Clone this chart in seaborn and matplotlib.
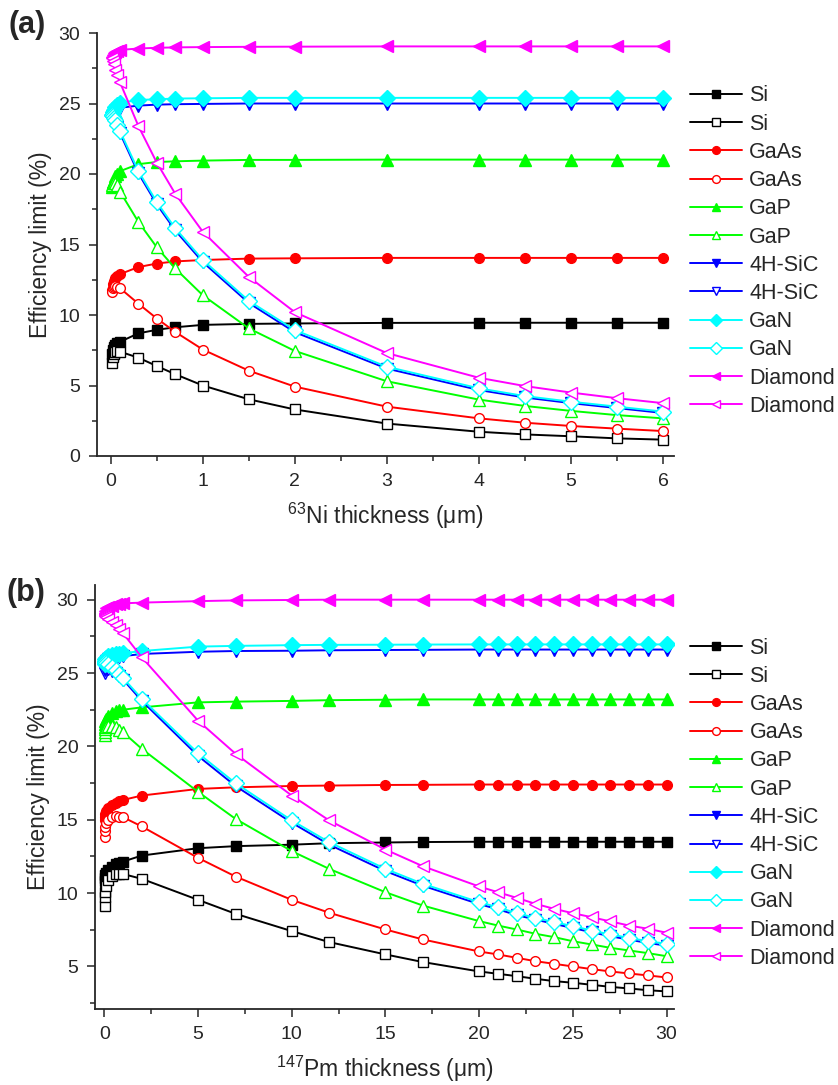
import numpy as np
import pandas as pd
import seaborn as sns
import matplotlib.pyplot as plt
from matplotlib.ticker import MultipleLocator

# --- data ---
names = ["Si", "Si", "GaAs", "GaAs", "GaP", "GaP", "4H-SiC", "4H-SiC",
         "GaN", "GaN", "Diamond", "Diamond"]
colors = ["black", "black", "#ff0000", "#ff0000", "#00ff00", "#00ff00",
          "#0000ff", "#0000ff", "#00ffff", "#00ffff", "#ff00ff", "#ff00ff"]
markers = ["s", "s", "o", "o", "^", "^", "v", "v", "D", "D", "<", "<"]
filled = [True, False] * 6

# (a) 63Ni
x_a = [0.01, 0.02, 0.03, 0.05, 0.07, 0.1, 0.3, 0.5, 0.7, 1, 1.5, 2, 3, 4, 4.5, 5, 5.5, 6]
si_f_a = [7.2, 7.5, 7.7, 7.85, 8.0, 8.1, 8.7, 8.95, 9.13, 9.3, 9.37, 9.4, 9.44, 9.45, 9.45, 9.45, 9.45, 9.45]
si_o_a = [6.6, 7.0, 7.25, 7.4, 7.45, 7.4, 6.97, 6.38, 5.8, 5.0, 4.02, 3.3, 2.3, 1.72, 1.53, 1.4, 1.25, 1.16]
gaas_f_a = [11.8, 12.2, 12.4, 12.6, 12.75, 12.9, 13.4, 13.65, 13.8, 13.9, 14.0, 14.02, 14.05, 14.05, 14.05, 14.05, 14.05, 14.05]
gaas_o_a = [11.6, 11.9, 12.0, 12.05, 12.0, 11.9, 10.8, 9.75, 8.8, 7.55, 6.05, 4.92, 3.5, 2.67, 2.36, 2.13, 1.94, 1.77]
gap_f_a = [19.1, 19.4, 19.6, 19.85, 20.0, 20.2, 20.7, 20.85, 20.9, 20.95, 21.0, 21.0, 21.02, 21.02, 21.02, 21.02, 21.02, 21.02]
gap_o_a = [19.2, 19.35, 19.4, 19.35, 19.2, 18.75, 16.6, 14.8, 13.3, 11.4, 9.05, 7.45, 5.3, 4.0, 3.55, 3.2, 2.9, 2.67]
sic_f_a = [24.0, 24.2, 24.35, 24.5, 24.6, 24.7, 24.85, 24.92, 24.95, 24.97, 25.0, 25.0, 25.0, 25.0, 25.0, 25.0, 25.0, 25.0]
sic_o_a = [24.0, 23.9, 23.8, 23.6, 23.3, 22.9, 20.05, 17.85, 16.0, 13.75, 10.85, 8.78, 6.2, 4.68, 4.15, 3.75, 3.4, 3.05]
gan_f_a = [24.2, 24.4, 24.55, 24.75, 24.9, 25.05, 25.25, 25.3, 25.35, 25.37, 25.4, 25.4, 25.4, 25.4, 25.4, 25.4, 25.4, 25.4]
gan_o_a = [24.2, 24.1, 24.0, 23.8, 23.5, 23.05, 20.2, 18.0, 16.15, 13.9, 11.0, 8.93, 6.33, 4.8, 4.25, 3.85, 3.5, 3.15]
dia_f_a = [28.3, 28.45, 28.55, 28.65, 28.72, 28.8, 28.9, 28.95, 28.98, 29.0, 29.02, 29.03, 29.05, 29.05, 29.05, 29.05, 29.05, 29.05]
dia_o_a = [28.2, 28.0, 27.8, 27.4, 27.0, 26.5, 23.4, 20.8, 18.6, 15.9, 12.7, 10.2, 7.3, 5.55, 4.96, 4.5, 4.1, 3.75]

# (b) 147Pm
x_b = [0.01, 0.02, 0.05, 0.1, 0.2, 0.4, 0.6, 0.8, 1, 2, 5, 7, 10, 12, 15, 17,
       20, 21, 22, 23, 24, 25, 26, 27, 28, 29, 30]
si_f_b = [10.8, 11.0, 11.2, 11.4, 11.6, 11.8, 11.95, 12.05, 12.15, 12.56, 13.06, 13.2, 13.3, 13.4, 13.45, 13.48,
          13.5, 13.5, 13.5, 13.5, 13.5, 13.5, 13.5, 13.5, 13.5, 13.5, 13.5]
si_o_b = [9.1, 9.7, 10.1, 10.5, 10.9, 11.15, 11.3, 11.3, 11.3, 10.97, 9.54, 8.59, 7.41, 6.66, 5.82, 5.3,
          4.66, 4.5, 4.34, 4.16, 4.0, 3.89, 3.75, 3.61, 3.5, 3.38, 3.3]
gaas_f_b = [15.0, 15.2, 15.4, 15.6, 15.8, 16.0, 16.15, 16.25, 16.35, 16.65, 17.1, 17.21, 17.3, 17.33, 17.37, 17.38,
            17.4, 17.4, 17.4, 17.4, 17.4, 17.4, 17.4, 17.4, 17.4, 17.4, 17.4]
gaas_o_b = [13.8, 14.2, 14.5, 14.8, 15.0, 15.2, 15.25, 15.22, 15.17, 14.54, 12.4, 11.13, 9.54, 8.66, 7.52, 6.84,
            6.02, 5.82, 5.59, 5.36, 5.18, 5.0, 4.82, 4.66, 4.52, 4.39, 4.25]
gap_f_b = [21.3, 21.5, 21.7, 21.9, 22.1, 22.3, 22.4, 22.45, 22.5, 22.66, 23.0, 23.05, 23.1, 23.15, 23.18, 23.2,
           23.2, 23.2, 23.2, 23.2, 23.2, 23.2, 23.2, 23.2, 23.2, 23.2, 23.2]
gap_o_b = [20.8, 21.0, 21.2, 21.3, 21.4, 21.4, 21.3, 21.15, 20.96, 19.83, 16.9, 15.06, 12.86, 11.65, 10.06, 9.15,
           8.09, 7.79, 7.52, 7.23, 7.0, 6.72, 6.5, 6.27, 6.09, 5.91, 5.7]
sic_f_b = [25.3, 25.5, 25.7, 25.85, 25.95, 26.05, 26.1, 26.12, 26.15, 26.3, 26.45, 26.5, 26.52, 26.55, 26.57, 26.58,
           26.6, 26.6, 26.6, 26.6, 26.6, 26.6, 26.6, 26.6, 26.6, 26.6, 26.6]
sic_o_b = [25.0, 25.2, 25.3, 25.35, 25.3, 25.15, 25.0, 24.8, 24.55, 23.1, 19.35, 17.3, 14.8, 13.3, 11.5, 10.5,
           9.25, 8.9, 8.5, 8.2, 7.9, 7.62, 7.33, 7.06, 6.83, 6.6, 6.42]
gan_f_b = [25.6, 25.8, 25.95, 26.05, 26.15, 26.25, 26.3, 26.33, 26.35, 26.5, 26.8, 26.85, 26.9, 26.92, 26.93, 26.94,
           26.95, 26.95, 26.95, 26.95, 26.95, 26.95, 26.95, 26.95, 26.95, 26.95, 26.95]
gan_o_b = [25.7, 25.75, 25.75, 25.7, 25.6, 25.4, 25.2, 24.95, 24.66, 23.24, 19.53, 17.49, 14.95, 13.47, 11.65, 10.63,
           9.38, 9.04, 8.63, 8.32, 8.02, 7.75, 7.45, 7.18, 6.95, 6.72, 6.55]
dia_f_b = [29.0, 29.1, 29.25, 29.4, 29.5, 29.6, 29.68, 29.72, 29.75, 29.8, 29.9, 29.95, 29.98, 30.0, 30.0, 30.0,
           30.0, 30.0, 30.0, 30.0, 30.0, 30.0, 30.0, 30.0, 30.0, 30.0, 30.0]
dia_o_b = [29.0, 28.95, 28.9, 28.8, 28.7, 28.5, 28.3, 28.0, 27.7, 26.07, 21.75, 19.5, 16.65, 14.95, 12.97, 11.83,
           10.45, 10.06, 9.68, 9.27, 8.93, 8.63, 8.36, 8.07, 7.79, 7.57, 7.3]

ys_a = [si_f_a, si_o_a, gaas_f_a, gaas_o_a, gap_f_a, gap_o_a, sic_f_a, sic_o_a, gan_f_a, gan_o_a, dia_f_a, dia_o_a]
ys_b = [si_f_b, si_o_b, gaas_f_b, gaas_o_b, gap_f_b, gap_o_b, sic_f_b, sic_o_b, gan_f_b, gan_o_b, dia_f_b, dia_o_b]

sns.set_style("ticks")
plt.rcParams['font.family'] = ['Liberation Sans', 'DejaVu Sans']
plt.rcParams['mathtext.fontset'] = 'custom'
plt.rcParams['mathtext.rm'] = 'Liberation Sans'
plt.rcParams['mathtext.it'] = 'Liberation Sans:italic'

fig = plt.figure(figsize=(8.38, 10.85), dpi=100)
ax_a = fig.add_axes([97/838, 1-456/1085, 577/838, 423/1085])
ax_b = fig.add_axes([95/838, 1-1009/1085, 579/838, 424/1085])


def draw(ax, x, ys):
    for y, name, c, m, f in zip(ys, names, colors, markers, filled):
        ms = 8 if m in "^v<D" else 7
        sns.lineplot(x=x, y=y, ax=ax, color=c, marker=m, markersize=ms,
                     markerfacecolor=c if f else "white", markeredgecolor=c,
                     markeredgewidth=1.0, linewidth=1.4, label=name, legend=False)
    ax.tick_params(direction="out", length=6, width=1.1, labelsize=14, pad=6)
    ax.tick_params(which="minor", direction="out", length=3.5, width=1.1)
    for s in ["top", "right"]:
        ax.spines[s].set_visible(False)
    for s in ["left", "bottom"]:
        ax.spines[s].set_linewidth(1.3)
    ax.set_ylabel("Efficiency limit (%)", fontsize=16.5, labelpad=5)
    lines = ax.get_lines()
    ax.legend(lines, names, loc="upper left", bbox_to_anchor=(1.028, 0.876),
              frameon=False, fontsize=15.5, handlelength=2.42, labelspacing=0.335,
              handletextpad=0.33, borderaxespad=0, borderpad=0, markerscale=0.8)


draw(ax_a, x_a, ys_a)
ax_a.set_xlim(-0.15, 6.12)
ax_a.set_ylim(0, 30)
ax_a.xaxis.set_major_locator(MultipleLocator(1))
ax_a.xaxis.set_minor_locator(MultipleLocator(0.5))
ax_a.yaxis.set_major_locator(MultipleLocator(5))
ax_a.yaxis.set_minor_locator(MultipleLocator(2.5))
ax_a.set_xlabel("$^{63}$Ni thickness (\u03bcm)", fontsize=16.5, labelpad=8)

draw(ax_b, x_b, ys_b)
ax_b.set_xlim(-0.5, 30.4)
ax_b.set_ylim(2.1, 31)
ax_b.xaxis.set_major_locator(MultipleLocator(5))
ax_b.xaxis.set_minor_locator(MultipleLocator(2.5))
ax_b.yaxis.set_major_locator(MultipleLocator(5))
ax_b.yaxis.set_minor_locator(MultipleLocator(2.5))
ax_b.set_xlabel("$^{147}$Pm thickness (\u03bcm)", fontsize=16.5, labelpad=8)

fig.text(8/838, 1-25/1085, "(a)", fontsize=22, fontweight="bold", va="center")
fig.text(6/838, 1-593/1085, "(b)", fontsize=22, fontweight="bold", va="center")

fig.savefig("out.png", dpi=100)
